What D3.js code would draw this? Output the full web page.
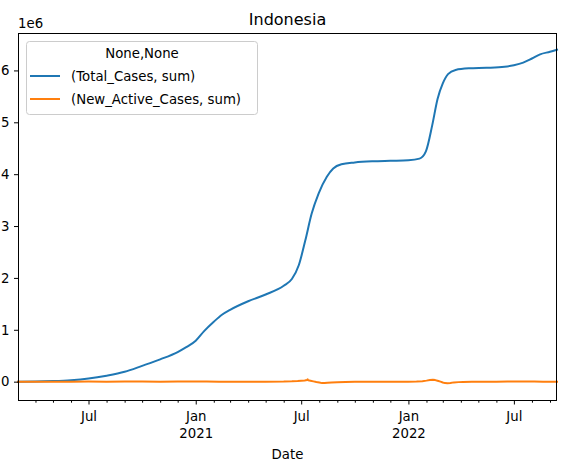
<!DOCTYPE html>
<html>
<head>
<meta charset="utf-8">
<script src="https://cdn.jsdelivr.net/npm/d3@7"></script>
<style>
  html, body { margin: 0; padding: 0; background: #fff; }
  svg { display: block; font-family: "DejaVu Sans", sans-serif; }
</style>
</head>
<body>
<svg id="chart" width="563" height="461"></svg>
<script>
// Total cases (cumulative), Indonesia
const totalDates = [
  "2020-03-02","2020-04-01","2020-05-01","2020-06-01","2020-07-01","2020-08-01",
  "2020-09-01","2020-10-01","2020-11-01","2020-12-01","2020-12-15","2021-01-01",
  "2021-01-15","2021-02-01","2021-02-15","2021-03-01","2021-04-01","2021-05-01",
  "2021-06-01","2021-06-15","2021-06-27","2021-07-08","2021-07-19","2021-07-31",
  "2021-08-14","2021-08-25","2021-09-08","2021-10-01","2021-11-01","2021-12-01",
  "2022-01-01","2022-01-20","2022-01-31","2022-02-11","2022-02-20","2022-03-01",
  "2022-03-10","2022-03-23","2022-04-15","2022-05-15","2022-06-15","2022-07-01",
  "2022-07-17","2022-08-01","2022-08-15","2022-09-01","2022-09-13"
];
const totalCases = [
  0, 2000, 11000, 28000, 60000, 115000,
  190000, 305000, 430000, 570000, 660000, 790000,
  970000, 1155000, 1290000, 1385000, 1550000, 1680000,
  1850000, 1980000, 2250000, 2720000, 3240000, 3630000,
  3950000, 4110000, 4190000, 4225000, 4248000, 4258000,
  4268000, 4300000, 4440000, 4950000, 5450000, 5750000,
  5930000, 6010000, 6040000, 6050000, 6070000, 6100000,
  6150000, 6230000, 6310000, 6360000, 6400000
];

// Daily change in active cases
const activeDates = [
  "2020-03-02","2020-04-01","2020-05-01","2020-06-01","2020-07-01","2020-08-01",
  "2020-09-01","2020-10-01","2020-11-01","2020-12-01","2021-01-01","2021-01-20",
  "2021-02-10","2021-03-01","2021-04-01","2021-05-01","2021-06-01","2021-06-15",
  "2021-06-25","2021-07-01","2021-07-07","2021-07-11","2021-07-12","2021-07-13",
  "2021-07-17","2021-07-22","2021-07-27","2021-08-01","2021-08-06","2021-08-10",
  "2021-08-15","2021-08-22","2021-09-01","2021-09-15","2021-10-01","2021-11-01",
  "2021-12-01","2022-01-01","2022-01-15","2022-01-25","2022-02-01","2022-02-07",
  "2022-02-12","2022-02-16","2022-02-20","2022-02-25","2022-03-01","2022-03-05",
  "2022-03-09","2022-03-14","2022-03-20","2022-03-28","2022-04-05","2022-04-20",
  "2022-05-10","2022-06-01","2022-06-20","2022-07-05","2022-07-20","2022-08-05",
  "2022-08-20","2022-09-13"
];
const activeChange = [
  0, 100, 300, 500, 800, 600,
  1200, 1500, -200, 1800, 2500, 3000,
  -1500, -1000, -200, 500, 1500, 6000,
  12000, 18000, 22000, 30000, 45000, 28000,
  18000, 5000, -8000, -15000, -28000, -24000,
  -20000, -15000, -10000, -5000, -1500, -300,
  0, 300, 3000, 10000, 20000, 32000,
  36000, 30000, 18000, 0, -15000, -28000,
  -32000, -25000, -14000, -9000, -5000, -2000,
  0, 400, 1200, 2500, 3000, 1500,
  500, -500
];

const seriesNames = ["(Total_Cases, sum)", "(New_Active_Cases, sum)"];
const seriesColors = ["#1f77b4", "#ff7f0e"];
const yTickValues = [0, 1e6, 2e6, 3e6, 4e6, 5e6, 6e6];

const parse = d3.utcParse("%Y-%m-%d");
const totalData = totalDates.map((d, i) => ({ date: parse(d), value: totalCases[i] }));
const activeData = activeDates.map((d, i) => ({ date: parse(d), value: activeChange[i] }));

const svg = d3.select("#chart");
const plotLeft = 18, plotRight = 557, plotTop = 33, plotBottom = 400;

// x spans the data range exactly
const x = d3.scaleUtc()
  .domain([totalData[0].date, totalData[totalData.length - 1].date])
  .range([plotLeft, plotRight]);

// y gets a 5% margin around the data extent
const allVals = totalCases.concat(activeChange);
const yMin = d3.min(allVals), yMax = d3.max(allVals);
const pad = (yMax - yMin) * 0.05;
const y = d3.scaleLinear().domain([yMin - pad, yMax + pad]).range([plotBottom, plotTop]);

const line = d3.line().x(d => x(d.date)).y(d => y(d.value)).curve(d3.curveMonotoneX);

const plot = svg.append("g");
plot.append("path").datum(totalData)
  .attr("d", line).attr("fill", "none")
  .attr("stroke", seriesColors[0]).attr("stroke-width", 2)
  .attr("stroke-linejoin", "round").attr("stroke-linecap", "square");
plot.append("path").datum(activeData)
  .attr("d", d3.line().x(d => x(d.date)).y(d => y(d.value)))
  .attr("fill", "none")
  .attr("stroke", seriesColors[1]).attr("stroke-width", 2)
  .attr("stroke-linejoin", "round").attr("stroke-linecap", "square");

// Frame
svg.append("rect")
  .attr("x", plotLeft + 0.5).attr("y", plotTop + 0.5)
  .attr("width", plotRight - plotLeft - 1).attr("height", plotBottom - plotTop)
  .attr("fill", "none").attr("stroke", "#000").attr("stroke-width", 1);

// Y axis
const yAxis = svg.append("g").attr("transform", `translate(${plotLeft + 0.5},0)`)
  .call(d3.axisLeft(y).tickValues(yTickValues).tickFormat(d => d / 1e6)
    .tickSize(4.5).tickPadding(4.5).tickSizeOuter(0));
yAxis.select(".domain").remove();
yAxis.selectAll("text").attr("font-size", 13.3).attr("fill", "#000")
  .attr("font-family", "DejaVu Sans");
yAxis.selectAll("line").attr("stroke", "#000");

// X axis: monthly minor ticks, Jan/Jul majors
const months = d3.utcMonth.range(x.domain()[0], x.domain()[1]);
const isMajor = d => d.getUTCMonth() === 0 || d.getUTCMonth() === 6;
const majors = months.filter(isMajor);
const minors = months.filter(d => !isMajor(d));

const xMinor = svg.append("g").attr("transform", `translate(0,${plotBottom})`)
  .call(d3.axisBottom(x).tickValues(minors).tickFormat("").tickSize(2.7).tickSizeOuter(0));
xMinor.select(".domain").remove();
xMinor.selectAll("line").attr("stroke", "#000");

const xMajor = svg.append("g").attr("transform", `translate(0,${plotBottom})`)
  .call(d3.axisBottom(x).tickValues(majors).tickFormat("").tickSize(4.5).tickSizeOuter(0));
xMajor.select(".domain").remove();
xMajor.selectAll("line").attr("stroke", "#000");
xMajor.selectAll(".tick").each(function(d) {
  const t = d3.select(this).append("text")
    .attr("text-anchor", "middle").attr("font-size", 13.3).attr("fill", "#000")
    .attr("font-family", "DejaVu Sans");
  t.append("tspan").attr("x", 0).attr("y", 21).text(d.getUTCMonth() === 0 ? "Jan" : "Jul");
  if (d.getUTCMonth() === 0) {
    t.append("tspan").attr("x", 0).attr("y", 38).text(d.getUTCFullYear());
  }
});

// Labels
svg.append("text").attr("x", (plotLeft + plotRight) / 2).attr("y", 25)
  .attr("text-anchor", "middle").attr("font-size", 16).attr("fill", "#000")
  .text("Indonesia");
svg.append("text").attr("x", plotLeft).attr("y", 28)
  .attr("font-size", 13.3).attr("fill", "#000").text("1e6");
svg.append("text").attr("x", (plotLeft + plotRight) / 2).attr("y", 459)
  .attr("text-anchor", "middle").attr("font-size", 13.3).attr("fill", "#000")
  .text("Date");

// Legend
const lg = svg.append("g");
lg.append("rect").attr("x", 26.5).attr("y", 41.5).attr("width", 231).attr("height", 73)
  .attr("rx", 3).attr("fill", "#fff").attr("fill-opacity", 0.8)
  .attr("stroke", "#ccc").attr("stroke-width", 1);
lg.append("text").attr("x", 142).attr("y", 58).attr("text-anchor", "middle")
  .attr("font-size", 13.3).attr("fill", "#000").text("None,None");
seriesNames.forEach((name, i) => {
  const yy = 76 + i * 23;
  lg.append("line").attr("x1", 30).attr("x2", 60).attr("y1", yy).attr("y2", yy)
    .attr("stroke", seriesColors[i]).attr("stroke-width", 2);
  lg.append("text").attr("x", 71).attr("y", yy + 4.8)
    .attr("font-size", 13.3).attr("fill", "#000").text(name);
});
</script>
</body>
</html>
